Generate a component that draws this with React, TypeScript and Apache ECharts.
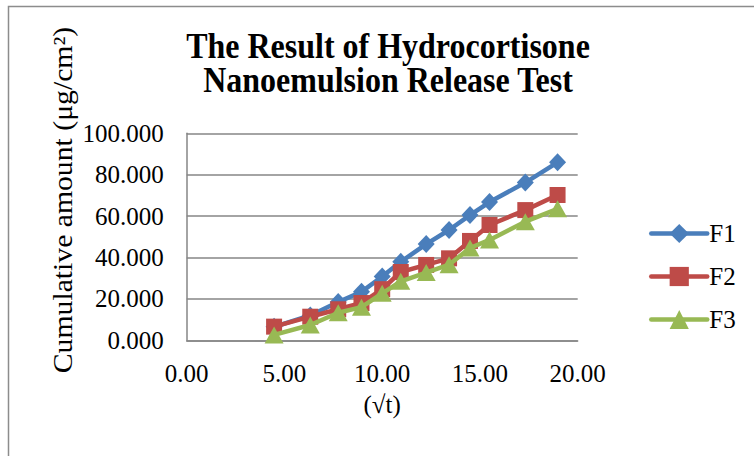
import React, { useEffect, useRef } from "react";
import * as echarts from "echarts";

const sqrtT = [4.47, 6.32, 7.75, 8.94, 10.0, 10.95, 12.25, 13.42, 14.49, 15.49, 17.32, 18.97];
const f1 = [6.5, 12.0, 18.5, 23.4, 30.8, 37.9, 46.5, 53.3, 60.5, 66.8, 76.2, 86.0];
const f2 = [6.6, 11.4, 15.0, 18.0, 24.7, 33.0, 36.4, 39.6, 48.0, 55.7, 62.9, 70.2];
const f3 = [2.6, 7.4, 13.3, 16.0, 22.7, 28.5, 32.7, 36.5, 44.6, 48.5, 57.3, 63.5];
const seriesNames = ["F1", "F2", "F3"];
const titleLines = ["The Result of Hydrocortisone", "Nanoemulsion Release Test"];
const yName = "Cumulative amount (μg/cm²)";
const xName = "(√t)";

const FONT = '"Liberation Serif", "Times New Roman", serif';
const GRID = "#868686";

export default function App() {
  const ref = useRef<HTMLDivElement>(null);
  useEffect(() => {
    if (!ref.current) return;
    const chart = echarts.init(ref.current, null, { renderer: "svg" });
    const pair = (ys: number[]) => sqrtT.map((x, i) => [x, ys[i]]);
    const colors = ["#4A7EBB", "#BE4B48", "#98B954"];
    const symbols = ["diamond", "rect", "triangle"];
    const sizes: any[] = [[17, 18], [16, 16], [19, 17]];
    const datas = [f1, f2, f3];
    chart.setOption({
      animation: false,
      backgroundColor: "#ffffff",
      graphic: [
        {
          type: "rect",
          shape: { x: 8.5, y: 6.5, width: 800, height: 500 },
          style: { fill: "none", stroke: "#8c8c8c", lineWidth: 1.5 },
          silent: true,
        },
        {
          type: "text",
          x: 388,
          y: 28.5,
          scaleY: 1.1,
          style: {
            text: titleLines.join("\n"),
            fontSize: 32,
            fontWeight: "bold",
            fontFamily: FONT,
            fill: "#000",
            align: "center",
            verticalAlign: "top",
            lineHeight: 31.5,
          },
        },
        {
          type: "text",
          x: 63,
          y: 200,
          rotation: Math.PI / 2,
          scaleX: 1.1,
          style: {
            text: yName,
            fontSize: 27,
            fontFamily: FONT,
            fill: "#000",
            align: "center",
            verticalAlign: "middle",
          },
        },
      ],
      grid: { left: 186.7, right: 176.3, top: 133.3, bottom: 115.7 },
      xAxis: {
        type: "value",
        min: 0,
        max: 20,
        interval: 5,
        axisLine: { show: true, lineStyle: { color: GRID, width: 1.5 } },
        axisTick: { show: false },
        splitLine: { show: false },
        axisLabel: {
          formatter: (v: number) => v.toFixed(2),
          fontSize: 25,
          fontFamily: FONT,
          color: "#000",
          margin: 21,
        },
        name: xName,
        nameLocation: "middle",
        nameGap: 52,
        nameTextStyle: { fontSize: 25, fontFamily: FONT, color: "#000" },
      },
      yAxis: {
        type: "value",
        min: 0,
        max: 100,
        interval: 20,
        axisLine: { show: true, lineStyle: { color: GRID, width: 1.5 } },
        axisTick: { show: false },
        splitLine: { show: true, lineStyle: { color: GRID, width: 1.5 } },
        axisLabel: {
          formatter: (v: number) => v.toFixed(3),
          fontSize: 25,
          fontFamily: FONT,
          color: "#000",
          margin: 23,
        },
      },
      legend: {
        orient: "vertical",
        left: 644,
        top: 216,
        itemWidth: 56,
        itemHeight: 24,
        itemGap: 18,
        lineStyle: { width: 4.5, cap: "round" },
        textStyle: { fontSize: 25, fontFamily: FONT, color: "#000", padding: [0, 0, 0, -3] },
        data: seriesNames,
      },
      series: seriesNames.map((name, i) => ({
        name,
        type: "line",
        data: pair(datas[i]),
        symbol: symbols[i],
        symbolSize: sizes[i],
        showSymbol: true,
        lineStyle: { color: colors[i], width: 4.5 },
        itemStyle: { color: colors[i], borderColor: colors[i], borderWidth: 0 },
        emphasis: { disabled: true },
        z: 2 + i,
      })),
    });
    return () => chart.dispose();
  }, []);
  return (
    <div
      ref={ref}
      style={{ position: "absolute", left: 0, top: 0, width: 754, height: 456 }}
    />
  );
}
